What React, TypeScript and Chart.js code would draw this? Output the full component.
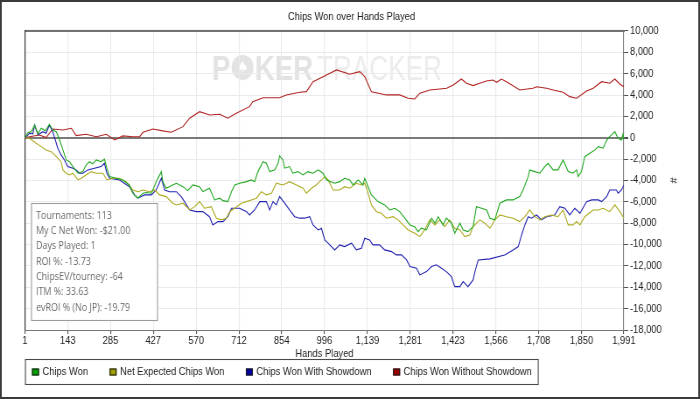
import React, { useEffect, useRef } from 'react';
import { Chart, registerables } from 'chart.js';

Chart.register(...registerables);

const chartTitle = 'Chips Won over Hands Played';
const xAxisTitle = 'Hands Played';
const yAxisTitle = '#';
const xTickValues = [1, 143, 285, 427, 570, 712, 854, 996, 1139, 1281, 1423, 1566, 1708, 1850, 1991];
const yMin = -18000;
const yMax = 10000;
const yStep = 2000;

const seriesLabels = ['Chips Won', 'Net Expected Chips Won', 'Chips Won With Showdown', 'Chips Won Without Showdown'];
const seriesLineColors = ['#22a822', '#adab22', '#2424b0', '#b22424'];
const seriesLegendColors = ['#00a000', '#a0a000', '#0000a0', '#a00000'];

const chipsWonHands = [1, 10, 22, 33, 44, 55, 69, 82, 93, 105, 116, 127, 138, 149, 160, 177, 193, 204, 215, 226, 238, 254, 265, 273, 282, 304, 326, 348, 359, 376, 393, 404, 421, 437, 454, 459, 470, 492, 504, 526, 542, 559, 581, 592, 614, 631, 648, 659, 675, 687, 698, 714, 737, 753, 764, 775, 792, 803, 814, 831, 842, 847, 858, 864, 880, 891, 908, 925, 941, 958, 975, 991, 1003, 1030, 1047, 1063, 1080, 1091, 1108, 1124, 1130, 1141, 1152, 1174, 1196, 1213, 1230, 1246, 1263, 1280, 1296, 1307, 1318, 1335, 1352, 1363, 1374, 1390, 1401, 1418, 1429, 1446, 1457, 1473, 1479, 1490, 1501, 1518, 1535, 1546, 1562, 1579, 1601, 1623, 1645, 1656, 1673, 1678, 1695, 1712, 1728, 1739, 1756, 1772, 1789, 1806, 1822, 1834, 1839, 1850, 1861, 1878, 1895, 1906, 1922, 1934, 1944, 1961, 1972, 1983, 1988, 1991];
const chipsWonValues = [0, 480, 570, 1200, 360, 890, 660, 1260, 730, 570, -210, -1140, -2080, -2240, -2700, -3320, -3170, -2550, -2240, -2450, -2080, -2240, -2010, -2850, -3640, -3790, -3950, -4420, -5190, -5660, -5190, -5130, -5190, -4110, -3170, -4110, -4730, -4420, -4260, -4580, -4950, -4420, -4580, -5050, -4730, -5820, -5660, -5890, -5980, -5050, -4420, -4260, -4110, -3950, -4110, -3170, -2240, -2390, -3170, -3010, -2390, -1700, -2080, -2850, -2700, -3320, -3170, -3480, -3170, -3320, -3010, -3320, -3950, -4260, -4110, -3790, -3950, -4420, -3950, -4420, -3790, -4580, -5350, -5980, -6290, -6760, -6600, -6920, -7530, -8160, -8320, -8790, -8470, -8630, -7530, -8000, -7390, -8160, -7530, -8000, -8940, -8000, -8630, -8790, -8630, -8320, -6450, -6600, -6760, -7530, -7690, -6130, -5820, -5820, -5510, -4890, -3640, -3010, -3170, -3320, -2700, -2390, -3010, -3010, -2080, -3170, -3320, -3010, -3640, -3170, -1770, -1450, -1140, -830, -980, -210, 100, 570, -50, -210, 360, -210];

const netExpectedHands = [1, 16, 38, 55, 71, 88, 105, 121, 127, 138, 149, 160, 177, 188, 204, 221, 238, 260, 273, 293, 315, 337, 359, 376, 393, 415, 432, 448, 470, 492, 504, 526, 548, 565, 581, 598, 620, 637, 653, 670, 681, 698, 720, 737, 753, 770, 786, 803, 820, 836, 858, 880, 903, 925, 936, 953, 969, 986, 997, 1008, 1025, 1047, 1063, 1080, 1102, 1119, 1130, 1141, 1152, 1169, 1185, 1202, 1224, 1241, 1257, 1274, 1296, 1313, 1329, 1346, 1363, 1379, 1396, 1412, 1429, 1446, 1462, 1479, 1490, 1512, 1529, 1546, 1562, 1579, 1601, 1623, 1645, 1662, 1678, 1695, 1712, 1728, 1750, 1772, 1789, 1806, 1822, 1834, 1845, 1861, 1889, 1906, 1922, 1944, 1961, 1978, 1991];
const netExpectedValues = [0, -50, -510, -830, -1140, -1300, -1770, -2240, -3010, -3320, -3480, -3320, -3950, -3790, -3480, -3170, -3320, -3320, -3950, -3790, -3790, -4110, -4890, -5050, -4890, -5050, -4890, -5350, -5510, -6130, -6290, -6130, -6760, -6450, -5980, -6600, -6450, -7530, -7690, -7530, -6920, -6600, -6130, -5980, -5820, -5660, -5050, -5350, -5190, -4260, -4420, -4110, -4420, -4730, -5190, -4730, -4420, -3950, -3640, -3930, -4890, -4890, -4580, -4730, -4260, -4420, -4260, -5190, -6290, -6920, -7070, -7530, -7390, -7690, -8160, -8630, -8940, -9260, -8630, -7690, -8160, -7690, -8320, -7690, -8470, -8630, -9260, -9100, -8320, -7690, -8000, -8470, -7690, -7230, -7390, -7530, -7850, -7390, -6760, -7390, -7690, -7390, -7230, -7390, -6760, -8160, -8160, -7850, -8160, -7390, -6760, -6760, -6600, -6920, -6290, -6920, -7530];

const withShowdownHands = [1, 16, 27, 33, 44, 60, 71, 82, 93, 105, 110, 121, 132, 143, 160, 171, 182, 193, 210, 232, 254, 265, 273, 282, 315, 348, 365, 376, 398, 421, 437, 454, 465, 481, 504, 520, 531, 548, 570, 592, 614, 625, 642, 659, 675, 687, 714, 737, 747, 764, 781, 803, 814, 825, 836, 847, 864, 880, 897, 914, 930, 947, 958, 975, 986, 997, 1008, 1030, 1047, 1063, 1086, 1102, 1119, 1130, 1146, 1157, 1179, 1196, 1219, 1235, 1252, 1269, 1280, 1302, 1313, 1335, 1352, 1368, 1385, 1401, 1418, 1429, 1446, 1457, 1473, 1490, 1496, 1507, 1546, 1595, 1623, 1640, 1651, 1662, 1673, 1684, 1701, 1717, 1734, 1761, 1778, 1795, 1811, 1828, 1845, 1867, 1884, 1906, 1917, 1934, 1944, 1966, 1972, 1983, 1991];
const withShowdownValues = [0, 420, 360, 1200, 260, 570, 420, 1200, 570, -510, -980, -1610, -2080, -2700, -2850, -3010, -3320, -3320, -3010, -2850, -2700, -2390, -3320, -3790, -3950, -4580, -5350, -5660, -5350, -5350, -4890, -3790, -4890, -5050, -5050, -5510, -5980, -6760, -6920, -6920, -7390, -8160, -7850, -7850, -7390, -6600, -6600, -6920, -7230, -6760, -5980, -5980, -6760, -5980, -6290, -5510, -6130, -6760, -7390, -7530, -7530, -7390, -8160, -8630, -8470, -9570, -9870, -10500, -10030, -10190, -9870, -10500, -10340, -9410, -9570, -10030, -10030, -10500, -10660, -10970, -10970, -11440, -12060, -12210, -12840, -12530, -12060, -11900, -12210, -12530, -13000, -13940, -13940, -13470, -13940, -13310, -12530, -11440, -11340, -10970, -10500, -10190, -9100, -8160, -7390, -7530, -7230, -7690, -7390, -7230, -6450, -6600, -7230, -6600, -7070, -5980, -5820, -5820, -5980, -5510, -4890, -4890, -5190, -4890, -4420];

const withoutShowdownHands = [1, 16, 49, 71, 93, 127, 155, 171, 204, 238, 271, 299, 326, 359, 382, 393, 426, 459, 487, 526, 548, 581, 615, 648, 675, 703, 747, 758, 792, 847, 869, 914, 936, 958, 1003, 1036, 1080, 1113, 1130, 1152, 1202, 1246, 1274, 1296, 1313, 1346, 1379, 1402, 1424, 1451, 1468, 1490, 1512, 1534, 1556, 1568, 1584, 1601, 1645, 1689, 1701, 1734, 1756, 1789, 1811, 1834, 1867, 1889, 1917, 1944, 1961, 1978, 1991];
const withoutShowdownValues = [0, 100, 260, 10, 820, 730, 890, 200, 330, 100, 330, -210, 170, 100, 100, 510, 820, 640, 510, 1040, 1830, 2440, 2130, 2200, 1830, 2290, 2910, 3380, 3750, 3750, 4010, 4260, 4320, 5250, 5880, 6350, 5940, 6190, 5720, 4310, 4010, 4010, 3700, 3630, 4170, 4470, 4570, 4630, 4940, 5500, 5100, 4880, 5100, 5320, 5410, 5190, 5500, 5250, 4470, 4630, 4780, 4630, 4470, 4260, 3850, 3700, 4380, 4630, 5250, 5100, 5500, 5010, 4780];

const statsLines = [
  'Tournaments: 113',
  'My C Net Won: -$21.00',
  'Days Played: 1',
  'ROI %: -13.73',
  'ChipsEV/tourney: -64',
  'ITM %: 33.63',
  'evROI % (No JP): -19.79',
];

// The chart is drawn on an 800px-wide canvas shown 700px wide (the reference is a horizontally squeezed render).
const CANVAS_W = 800;
const CANVAS_H = 399;
const SHOW_W = 700;
const SX = CANVAS_W / SHOW_W;
const SANS = "'Liberation Sans', Arial, sans-serif";
const FONT_SIZE = 10.7;
const fmt = (v: number) => Number(v).toLocaleString('en-US');

const seriesHands = [chipsWonHands, netExpectedHands, withShowdownHands, withoutShowdownHands];
const seriesValues = [chipsWonValues, netExpectedValues, withShowdownValues, withoutShowdownValues];

const backgroundPlugin = {
  id: 'bgWatermark',
  beforeDraw(chart: any) {
    const ctx = chart.ctx;
    const a = chart.chartArea;
    ctx.save();
    ctx.fillStyle = '#ffffff';
    ctx.fillRect(0, 0, chart.width, chart.height);
    const x0 = a.left + 187 * SX;
    const base = a.top + 49;
    ctx.textBaseline = 'alphabetic';
    ctx.textAlign = 'left';
    ctx.font = `bold 35px ${SANS}`;
    const wP = ctx.measureText('P').width;
    const wKER = ctx.measureText('KER').width;
    const chipW = 25;
    const gap = 3;
    const natural = wP + gap + chipW + gap + wKER;
    const sx = (101 * SX) / natural;
    ctx.fillStyle = '#e3e3e3';
    ctx.save();
    ctx.translate(x0, base);
    ctx.scale(sx, 1);
    ctx.fillText('P', 0, 0);
    ctx.fillText('KER', wP + gap + chipW + gap, 0);
    ctx.restore();
    const cx = x0 + (wP + gap + chipW / 2) * sx;
    const cy = base - 12.5;
    ctx.beginPath();
    ctx.arc(cx, cy, 12.5, 0, Math.PI * 2);
    ctx.fill();
    ctx.fillStyle = '#ffffff';
    ctx.font = "15px 'DejaVu Sans', sans-serif";
    ctx.textAlign = 'center';
    ctx.textBaseline = 'middle';
    ctx.fillText('\u2660', cx, cy + 1);
    ctx.textAlign = 'left';
    ctx.textBaseline = 'alphabetic';
    ctx.font = `35px ${SANS}`;
    const wT = ctx.measureText('TRACKER').width;
    ctx.fillStyle = '#ececec';
    ctx.save();
    ctx.translate(x0 + 105 * SX, base);
    ctx.scale((125 * SX) / wT, 1);
    ctx.fillText('TRACKER', 0, 0);
    ctx.restore();
    ctx.restore();
  },
};

const framePlugin = {
  id: 'plotFrame',
  beforeDatasetsDraw(chart: any) {
    const ctx = chart.ctx;
    const a = chart.chartArea;
    ctx.save();
    ctx.fillStyle = '#6e6e6e';
    ctx.fillRect(a.left, a.top - 1, a.right - a.left + 1, 2);
    ctx.fillStyle = '#333333';
    ctx.fillRect(a.left - 0.5, a.top - 1, SX, a.bottom - a.top + 1);
    ctx.restore();
  },
};

const statsPlugin = {
  id: 'statsBox',
  afterDatasetsDraw(chart: any) {
    const ctx = chart.ctx;
    const a = chart.chartArea;
    const bx = a.left + 6.5 * SX;
    const by = a.bottom - 126.5;
    const bw = 126 * SX;
    const bh = 117;
    ctx.save();
    ctx.fillStyle = '#ffffff';
    ctx.fillRect(bx, by, bw, bh);
    ctx.strokeStyle = '#9c9c9c';
    ctx.lineWidth = 1.1;
    ctx.strokeRect(bx, by, bw, bh);
    ctx.fillStyle = '#6a6a6a';
    ctx.font = "10.2px 'Open Sans', 'Liberation Sans', sans-serif";
    ctx.textBaseline = 'middle';
    ctx.textAlign = 'left';
    statsLines.forEach((line, i) => {
      ctx.fillText(line, bx + 4.5 * SX, by + 12.5 + i * 15.3);
    });
    ctx.restore();
  },
};

const legendPlugin = {
  id: 'boxLegend',
  afterDraw(chart: any) {
    const ctx = chart.ctx;
    const a = chart.chartArea;
    const xs = chart.scales.x;
    const top = xs.bottom - 0.5;
    const h = 25;
    ctx.save();
    ctx.font = `${FONT_SIZE}px ${SANS}`;
    ctx.textBaseline = 'middle';
    ctx.textAlign = 'left';
    let x = a.left + 7 * SX;
    const cy = top + h / 2;
    let end = x;
    chart.data.datasets.forEach((ds: any, i: number) => {
      ctx.fillStyle = seriesLegendColors[i];
      ctx.fillRect(x, cy - 3.5, 7 * SX, 7);
      ctx.strokeStyle = '#1a1a1a';
      ctx.lineWidth = 1.1;
      ctx.strokeRect(x + 0.5, cy - 3, 7 * SX - 1, 6);
      ctx.fillStyle = '#222222';
      ctx.fillText(ds.label, x + 10.5 * SX, cy);
      const w = ctx.measureText(ds.label).width;
      end = x + 10.5 * SX + w;
      x = end + 21.5 * SX;
    });
    ctx.strokeStyle = '#4a4a4a';
    ctx.lineWidth = 1.1;
    ctx.strokeRect(a.left + 0.5, top, end + 6 * SX - a.left, h);
    ctx.strokeStyle = '#3a3a3a';
    ctx.lineWidth = 2;
    ctx.strokeRect(1, 1, chart.width - 2, chart.height - 2);
    ctx.restore();
  },
};

export default function App() {
  const canvasRef = useRef<HTMLCanvasElement | null>(null);

  useEffect(() => {
    const canvas = canvasRef.current;
    if (!canvas) return;
    const tickFont = { family: SANS, size: FONT_SIZE };
    const chart = new Chart(canvas, {
      type: 'line',
      data: {
        datasets: seriesLabels.map((label, i) => ({
          label,
          data: seriesHands[i].map((h, j) => ({ x: h, y: seriesValues[i][j] })),
          borderColor: seriesLineColors[i],
          backgroundColor: seriesLegendColors[i],
          borderWidth: 1.1,
          pointRadius: 0,
          tension: 0,
          fill: false,
        })),
      },
      options: {
        responsive: false,
        animation: false,
        devicePixelRatio: 1,
        layout: { padding: { left: 25 * SX, right: 25, top: 0, bottom: 39 } },
        plugins: {
          legend: { display: false },
          tooltip: { enabled: false },
          title: {
            display: true,
            text: chartTitle,
            color: '#222222',
            font: { family: SANS, size: FONT_SIZE, weight: 'normal' },
            padding: { top: 10.5, bottom: 7.6 },
          },
        },
        scales: {
          x: {
            type: 'linear',
            min: xTickValues[0],
            max: xTickValues[xTickValues.length - 1],
            afterBuildTicks: (s: any) => {
              s.ticks = xTickValues.map((v) => ({ value: v }));
            },
            afterFit: (s: any) => {
              s.height = 30;
            },
            ticks: {
              autoSkip: false,
              maxRotation: 0,
              padding: 1,
              color: '#222222',
              font: tickFont,
              callback: (v: any) => fmt(v),
            },
            grid: { color: '#ebebeb', lineWidth: 1.1, tickColor: '#555555', tickLength: 4 },
            border: { color: '#777777', width: 1 },
            title: { display: true, text: xAxisTitle, color: '#222222', font: tickFont, padding: 0 },
          },
          y: {
            position: 'right',
            min: yMin,
            max: yMax,
            afterFit: (s: any) => {
              s.width = 62;
            },
            ticks: {
              stepSize: yStep,
              padding: 2,
              color: '#222222',
              font: tickFont,
              callback: (v: any) => fmt(v),
            },
            grid: {
              color: (c: any) => (c.tick && c.tick.value === 0 ? '#7a7a7a' : '#ebebeb'),
              lineWidth: (c: any) => (c.tick && c.tick.value === 0 ? 2 : 1),
              tickColor: '#555555',
              tickLength: 5,
            },
            border: { color: '#808080', width: 1.1 },
            title: { display: true, text: yAxisTitle, color: '#222222', font: tickFont, padding: 0 },
          },
        },
      },
      plugins: [backgroundPlugin, framePlugin, statsPlugin, legendPlugin],
    } as any);
    return () => chart.destroy();
  }, []);

  return (
    <div style={{ position: 'fixed', left: 0, top: 0, width: SHOW_W, height: CANVAS_H }}>
      <canvas
        ref={canvasRef}
        width={CANVAS_W}
        height={CANVAS_H}
        style={{ display: 'block', width: SHOW_W, height: CANVAS_H }}
      />
    </div>
  );
}
